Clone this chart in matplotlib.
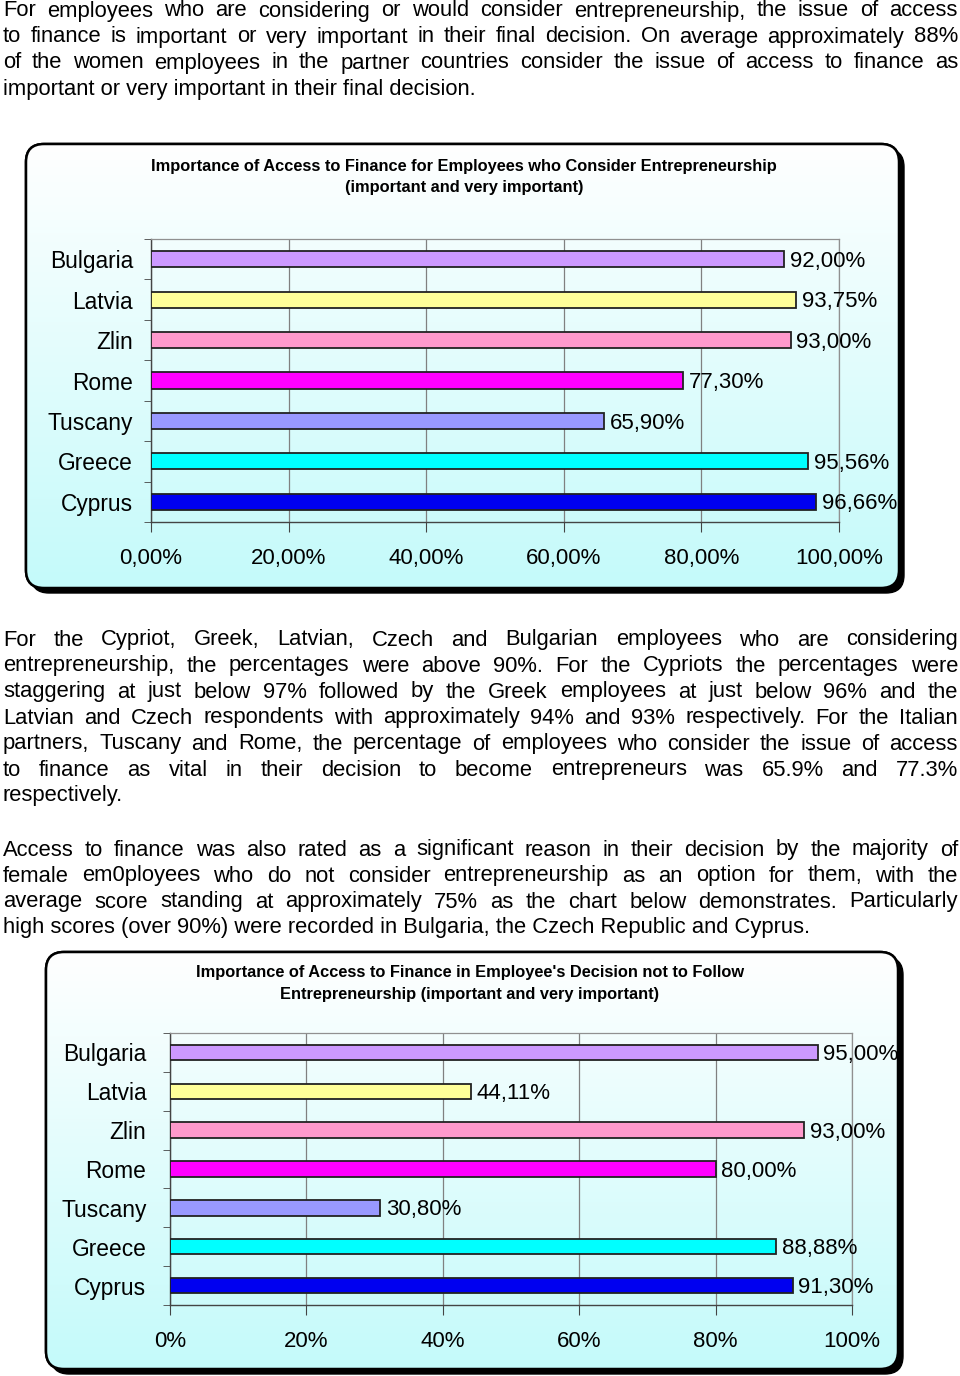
#recreate the report page with the two access-to-finance bar charts

import matplotlib
matplotlib.use("Agg")
import matplotlib.pyplot as plt
import numpy as np
from matplotlib.patches import FancyBboxPatch
from matplotlib.colors import LinearSegmentedColormap

plt.rcParams['font.family'] = ['Liberation Sans', 'DejaVu Sans']

# data
categories = ["Bulgaria", "Latvia", "Zlin", "Rome", "Tuscany", "Greece", "Cyprus"]
bar_colors = ["#CC99FF", "#FFFF99", "#FF99CC", "#FF00FF", "#9999FF", "#00FFFF", "#0000F0"]
consider_values = [92.00, 93.75, 93.00, 77.30, 65.90, 95.56, 96.66]
not_follow_values = [95.00, 44.11, 93.00, 80.00, 30.80, 88.88, 91.30]

title1 = ["Importance of Access to Finance for Employees who Consider Entrepreneurship",
          "(important and very important)"]
title2 = ["Importance of Access to Finance in Employee's Decision not to Follow",
          "Entrepreneurship (important and very important)"]

para1 = ["For employees who are considering or would consider entrepreneurship, the issue of access",
         "to finance is important or very important in their final decision. On average approximately 88%",
         "of the women employees in the partner countries consider the issue of access to finance as",
         "important or very important in their final decision."]
para2 = ["For the Cypriot, Greek, Latvian, Czech and Bulgarian employees who are considering",
         "entrepreneurship, the percentages were above 90%. For the Cypriots the percentages were",
         "staggering at just below 97% followed by the Greek employees at just below 96% and the",
         "Latvian and Czech respondents with approximately 94% and 93% respectively. For the Italian",
         "partners, Tuscany and Rome, the percentage of employees who consider the issue of access",
         "to finance as vital in their decision to become entrepreneurs was 65.9% and 77.3%",
         "respectively."]
para3 = ["Access to finance was also rated as a significant reason in their decision by the majority of",
         "female em0ployees who do not consider entrepreneurship as an option for them, with the",
         "average score standing at approximately 75% as the chart below demonstrates. Particularly",
         "high scores (over 90%) were recorded in Bulgaria, the Czech Republic and Cyprus."]

W, H = 960, 1376
fig = plt.figure(figsize=(W / 100, H / 100), dpi=100)
page = fig.add_axes([0, 0, 1, 1])
page.set_xlim(0, W)
page.set_ylim(H, 0)
page.axis("off")
renderer = fig.canvas.get_renderer()

TEXT_SIZE = 15.8
LEFT, RIGHT = 3, 958


def draw_paragraph(lines, y0, step=26):
    for i, line in enumerate(lines):
        y = y0 + i * step
        if i == len(lines) - 1:
            page.text(LEFT, y, line, fontsize=TEXT_SIZE, va="baseline", ha="left")
            continue
        words = line.split()
        widths = []
        for w in words:
            t = page.text(0, y, w, fontsize=TEXT_SIZE, va="baseline")
            widths.append(t.get_window_extent(renderer).width)
            t.remove()
        gap = (RIGHT - LEFT - sum(widths)) / (len(words) - 1)
        x = LEFT
        for w, wd in zip(words, widths):
            page.text(x, y, w, fontsize=TEXT_SIZE, va="baseline", ha="left")
            x += wd + gap


draw_paragraph(para1, 16.5)
draw_paragraph(para2, 645.5)
draw_paragraph(para3, 855.5)

grad = LinearSegmentedColormap.from_list("bg", ["#FFFFFF", "#C4FAFA"])


def draw_box(x0, y0, x1, y1):
    shadow = FancyBboxPatch((x0 + 5, y0 + 5), x1 - x0, y1 - y0,
                            boxstyle="round,pad=0,rounding_size=18",
                            fc="black", ec="black", lw=1, zorder=1)
    page.add_patch(shadow)
    box = FancyBboxPatch((x0, y0), x1 - x0, y1 - y0,
                         boxstyle="round,pad=0,rounding_size=18",
                         fc="white", ec="black", lw=1.8, zorder=2)
    page.add_patch(box)
    img = page.imshow(np.linspace(0, 1, 256).reshape(-1, 1), cmap=grad,
                      extent=(x0, x1, y1, y0), aspect="auto", zorder=2.5)
    img.set_clip_path(box)
    edge = FancyBboxPatch((x0, y0), x1 - x0, y1 - y0,
                          boxstyle="round,pad=0,rounding_size=18",
                          fc="none", ec="black", lw=1.8, zorder=3)
    page.add_patch(edge)


def draw_chart(box, title, title_x, title_y, plot, values, labels_fmt, ylabel_pad):
    draw_box(*box)
    for i, line in enumerate(title):
        page.text(title_x, title_y + i * 21.5, line, fontsize=11.8, fontweight="bold",
                  ha="center", va="center", zorder=5)
    px0, py0, px1, py1 = plot
    ax = fig.add_axes([px0 / W, 1 - py1 / H, (px1 - px0) / W, (py1 - py0) / H])
    ax.patch.set_alpha(0)
    ax.set_zorder(5)
    y = np.arange(len(categories))
    ax.barh(y, values, height=0.4, color=bar_colors, edgecolor="#222222", linewidth=1.3, zorder=3)
    ax.set_xlim(0, 100)
    ax.set_ylim(len(categories) - 0.5, -0.5)
    ax.set_xticks(np.arange(0, 101, 20))
    ax.set_xticklabels(labels_fmt)
    ax.set_yticks(y)
    ax.set_yticklabels(categories)
    ax.set_yticks(np.arange(-0.5, len(categories), 1), minor=True)
    ax.tick_params(axis="y", which="major", length=0, pad=ylabel_pad, labelsize=16.4)
    ax.tick_params(axis="y", which="minor", length=5, color="#444444")
    ax.tick_params(axis="x", length=7, pad=12, labelsize=16, color="#444444")
    ax.grid(axis="x", color="#808080", linewidth=0.9, zorder=0)
    for s in ["top", "right"]:
        ax.spines[s].set_color("#909090")
        ax.spines[s].set_linewidth(0.9)
    for s in ["left", "bottom"]:
        ax.spines[s].set_color("#444444")
        ax.spines[s].set_linewidth(1.0)
    for yi, v in zip(y, values):
        ax.annotate(("%.2f%%" % v).replace(".", ","), (v, yi), xytext=(4, -1.5),
                    textcoords="offset points", ha="left", va="center", fontsize=16, zorder=6)


draw_chart((26, 144, 899, 588), title1, 464, 166, (151, 239, 839, 522), consider_values,
           ["0,00%", "20,00%", "40,00%", "60,00%", "80,00%", "100,00%"], 13)
draw_chart((46, 952, 898, 1369), title2, 470, 973, (170, 1033, 852, 1305), not_follow_values,
           ["0%", "20%", "40%", "60%", "80%", "100%"], 17)

fig.savefig("out.png", dpi=100)
